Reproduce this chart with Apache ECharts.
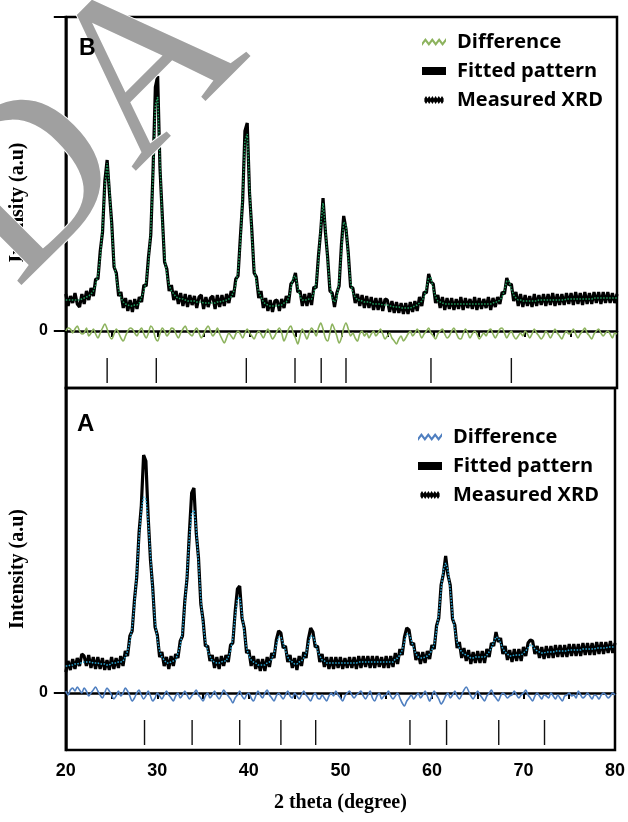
<!DOCTYPE html>
<html>
<head>
<meta charset="utf-8">
<script src="https://cdn.jsdelivr.net/npm/echarts@6/dist/echarts.min.js"></script>
<style>
html,body{margin:0;padding:0;background:#fff;}
#chart{width:628px;height:822px;}
</style>
</head>
<body>
<div id="chart"></div>
<script>
// 2θ sampling shared by every pattern below (degrees)
const twoThetaStart = 20;
const twoThetaStep = 0.25;
const twoThetaLabels = [20, 30, 40, 50, 60, 70, 80];
const zeroLabel = [0];

// ---- Sample B ----
const measuredB = [
  37,25,35,28, 38,27,24,37,   // 20–21.75
  27,40,31,43, 35,52,52,80,   // 22–23.75
  99,150,171,138, 108,64,58,35, // 24–25.75
  39,23,33,20, 31,19,32,22,   // 26–27.75
  34,29,46,45, 74,96,162,244, // 28–29.75
  255,163,116,69, 62,40,46,31,// 30–31.75
  40,27,38,25, 37,24,36,26,   // 32–33.75
  35,23,34,36, 22,34,24,33,   // 34–35.75
  35,22,36,24, 36,25,37,28,   // 36–37.75
  40,34,52,55, 94,130,200,208,// 38–39.75
  138,101,58,54, 33,40,23,33, // 40–41.75
  20,31,19,30, 31,20,32,23,   // 42–43.75
  35,28,47,50, 58,39,40,25,   // 44–45.75
  37,25,38,26, 44,43,75,100,  // 46–47.75
  133,100,74,40, 38,24,38,45, // 48–49.75
  86,115,102,78, 44,43,28,37, // 50–51.75
  25,36,23,35, 23,34,21,33,   // 52–53.75
  21,33,20,32, 31,19,30,18,   // 54–55.75
  29,18,28,17, 28,17,29,19,   // 56–57.75
  30,20,34,25, 39,38,57,49,   // 58–59.75
  47,28,36,23, 34,21,33,22,   // 60–61.75
  33,21,32,22, 34,21,33,23,   // 62–63.75
  32,22,34,21, 33,22,32,23,   // 64–65.75
  34,21,33,24, 34,27,39,37,   // 66–67.75
  53,46,47,30, 39,25,37,24,   // 68–69.75
  36,25,35,24, 37,25,36,26,   // 70–71.75
  37,25,37,26, 38,25,37,26,   // 72–73.75
  37,26,38,27, 38,26,39,27,   // 74–75.75
  38,26,39,27, 38,27,39,28,   // 76–77.75
  39,27,39,28, 39,28,38,28,   // 78–79.75
  37                          // 80
];
const fittedB = [
  31,31,31,31, 31,31,31,32,
  33,34,35,37, 40,46,56,74,
  104,145,168,144, 102,70,52,41,
  33,29,27,26, 25,25,26,26,
  28,34,40,50, 68,101,156,226,
  234,170,110,75, 56,46,40,37,
  34,33,32,32, 31,30,30,30,
  30,29,29,29, 28,28,28,28,
  28,28,29,29, 30,30,31,32,
  34,39,46,60, 88,135,190,197,
  145,95,64,48, 39,34,29,27,
  26,25,25,25, 25,26,26,28,
  29,33,42,54, 55,44,34,31,
  31,31,32,32, 38,48,70,105,
  128,105,70,45, 32,29,33,50,
  80,109,106,73, 49,38,34,31,
  31,30,29,29, 29,28,27,27,
  27,27,26,26, 26,25,25,24,
  24,24,23,23, 23,23,23,24,
  25,26,28,30, 34,43,53,53,
  42,34,30,29, 28,27,27,27,
  27,27,27,27, 27,27,27,27,
  27,27,27,27, 27,27,27,27,
  27,27,28,29, 29,31,34,41,
  50,50,42,36, 33,31,31,30,
  30,30,30,30, 30,30,31,31,
  31,31,31,31, 31,31,31,31,
  31,31,32,32, 32,32,32,32,
  32,32,32,32, 32,32,33,33,
  33,33,33,33, 33,33,33,33,
  33
];
const differenceB = [
  0,3,2,-2, 2,5,0,-3,
  -2,3,-5,-2, 2,-3,-7,-2,
  3,7,2,-5, -8,-3,2,-2,
  -7,-10,-5,0, 3,2,-2,-5,
  0,3,-3,-7, -2,5,2,-7,
  -10,-3,3,0, -5,-2,3,2,
  -3,-7,-2,2, 5,0,-3,-5,
  0,3,-2,-7, -3,2,5,0,
  -5,-2,3,-3, -8,-12,-7,-2,
  -5,-8,-3,0, -3,-7,-2,2,
  -2,-5,-8,-3, 0,-3,-7,-2,
  2,-3,-8,-5, 0,3,-2,-10,
  -5,2,5,-2, -7,-13,-5,2,
  -3,-8,-2,3, 0,-5,3,8,
  2,-7,-10,-2, 7,2,-5,-12,
  -7,3,8,2, -5,-2,-7,-10,
  -3,0,-5,-2, -7,-3,0,-5,
  -2,2,-3,-8, -5,-2,-7,-10,
  -13,-8,-5,-10, -7,-3,0,-5,
  -2,2,-2,-7, -3,0,3,-2,
  -5,-8,-3,0, 2,-3,-7,-5,
  0,3,-2,-7, -8,-3,2,-2,
  -7,-3,0,-3, -8,-5,-2,-5,
  0,2,-3,-7, -3,2,3,-2,
  -7,-3,0,-5, -8,-5,-2,-5,
  0,-3,-7,-3, 2,-2,-5,-8,
  -5,0,-3,-7, -3,2,-2,-5,
  -8,-3,0,-3, -2,2,-3,-7,
  -3,0,3,-2, -5,-8,-3,0,
  2,-2,-5,-2, 0,-3,-7,-2,
  -3
];
const reflectionsB = [24.5, 29.85, 39.65, 44.95, 47.8, 50.5, 59.75, 68.5];

// ---- Sample A ----
const measuredA = [
  21,32,23,34, 24,35,27,39,   // 20–21.75
  37,27,38,25, 36,24,36,24,   // 22–23.75
  35,23,33,23, 36,24,35,25,   // 24–25.75
  37,27,42,37, 57,62,93,116,  // 26–27.75
  160,187,238,232, 176,133,105,66, // 28–29.75
  58,36,41,27, 36,24,37,27,   // 30–31.75
  39,35,52,57, 92,115,160,200,// 32–33.75
  205,160,135,89, 73,47,47,32,// 34–35.75
  38,25,36,24, 37,27,38,31,   // 36–37.75
  48,50,81,104, 107,75,65,40, // 38–39.75
  43,27,37,24, 34,22,34,22,   // 40–41.75
  36,26,40,35, 53,62,60,45,   // 42–43.75
  47,31,38,25, 35,23,37,27,   // 44–45.75
  41,35,54,65, 61,46,47,31,   // 46–47.75
  39,26,36,24, 36,24,36,25,   // 48–49.75
  36,24,35,25, 36,25,36,24,   // 50–51.75
  37,25,37,26, 37,25,37,25,   // 52–53.75
  37,26,36,25, 37,25,37,26,   // 54–55.75
  40,29,44,38, 56,65,63,48,   // 56–57.75
  50,33,41,29, 41,30,42,34,   // 58–59.75
  48,44,67,75, 108,119,137,118, // 60–61.75
  108,74,68,45, 51,35,45,32,  // 62–63.75
  43,29,41,30, 42,30,42,30,   // 64–65.75
  44,36,50,47, 61,51,55,39,   // 66–67.75
  47,33,43,31, 44,32,44,32,   // 68–69.75
  46,37,50,53, 52,39,47,35,   // 70–71.75
  46,34,47,35, 47,35,48,36,   // 72–73.75
  48,36,48,36, 49,37,49,37,   // 74–75.75
  49,37,50,38, 50,38,50,38,   // 76–77.75
  51,39,51,39, 51,40,52,40,   // 78–79.75
  50                          // 80
];
const fittedA = [
  27,27,28,28, 29,29,30,30,
  31,31,31,31, 30,30,30,29,
  29,29,28,28, 30,30,30,31,
  31,32,36,42, 52,66,88,120,
  155,183,196,194, 172,138,100,72,
  53,42,36,33, 30,30,31,32,
  33,40,47,62, 87,120,155,180,
  183,165,130,94, 68,52,42,37,
  32,31,30,30, 31,32,32,36,
  42,55,76,94, 96,80,60,45,
  37,33,31,30, 28,28,28,28,
  30,31,34,40, 48,56,56,50,
  42,36,32,31, 29,29,31,32,
  35,40,49,57, 57,51,42,37,
  33,32,30,30, 30,30,30,30,
  30,30,30,30, 30,30,30,30,
  31,31,31,31, 31,31,31,31,
  31,31,31,31, 31,31,31,31,
  34,35,38,43, 51,59,59,53,
  45,39,36,35, 35,36,37,39,
  43,49,62,79, 103,123,130,123,
  103,79,63,51, 45,41,39,38,
  37,35,35,36, 36,36,36,36,
  38,41,45,51, 56,55,50,44,
  41,39,37,37, 38,38,38,38,
  40,42,45,48, 47,44,42,41,
  40,40,41,41, 41,41,42,42,
  42,42,42,42, 43,43,43,43,
  43,43,44,44, 44,44,44,44,
  45,45,45,45, 45,46,46,46,
  46
];
const differenceA = [
  2,-2,3,5, 2,6,3,0,
  5,2,-3,0, 3,6,2,-2,
  -5,0,5,2, -2,-6,-3,2,
  -3,0,5,2, -3,-8,-5,0,
  3,-2,-6,-3, 2,-3,-8,-5,
  0,-3,-6,-2, 2,-2,-5,-8,
  -3,0,-5,-2, 2,-2,-6,-3,
  0,3,-2,-5, -8,-3,0,-5,
  -2,2,-3,-6, -2,3,0,-3,
  -6,-10,-5,-2, 2,-3,-6,-2,
  0,-5,-8,-3, 2,-2,-5,0,
  3,-2,-5,-8, -3,0,-3,-6,
  -2,2,-3,-5, 0,-3,-6,-2,
  2,-2,-5,-8, -3,0,-5,-6,
  -2,-5,-8,-3, 0,-3,2,-2,
  -5,-8,-3,0, 2,-2,-5,-2,
  0,2,-3,-6, -2,2,-5,-8,
  -3,0,-6,-3, -2,2,-3,-6,
  -3,0,-5,-10, -13,-8,-5,-2,
  -6,-3,0,-5, -2,2,-3,-8,
  -3,2,-2,-6, -11,-8,-3,0,
  -5,-2,2,-3, -6,-2,3,6,
  2,-3,-6,-2, 2,-2,-5,-8,
  -3,0,3,-2, -5,-8,-3,0,
  -2,-5,-3,-2, 2,-2,-5,-2,
  0,3,-2,-5, -8,-3,0,-3,
  -6,-2,-3,-5, 0,-3,-6,-2,
  -5,-8,-3,-2, 0,-3,-2,-5,
  2,-2,-5,-3, 0,-3,-6,-2,
  -3,-6,-2,0, -2,-5,-3,0,
  -2
];
const reflectionsA = [28.6, 33.8, 39.0, 43.5, 47.3, 57.6, 61.6, 67.3, 72.3];

// ---- drawing ----
const toPairs = arr => arr.map((v, i) => [twoThetaStart + i * twoThetaStep, v]);

const INK = '#000';
const markTop = -27, markBottom = -52;   // vertical extent of reflection bars
const sansBold = { fontFamily: '"Liberation Sans", Arial, sans-serif', fontWeight: 'bold', color: INK };
const serifBold = { fontFamily: '"Liberation Serif", "Times New Roman", serif', fontWeight: 'bold', color: INK };

const wavyIcon = 'path://M0,4 L3,0 L6,4 L9,0 L12,4 L15,0 L18,4 L21,0 L21,3 L18,7 L15,3 L12,7 L9,3 L6,7 L3,3 L0,7 Z';
const jaggedIcon = 'path://M0,3 L2,0 L4,3 L6,0 L8,3 L10,0 L12,3 L14,0 L16,3 L18,0 L20,3 L22,0 L24,3 L24,7 L22,10 L20,7 L18,10 L16,7 L14,10 L12,7 L10,10 L8,7 L6,10 L4,7 L2,10 L0,7 Z';

function reflectionRenderer(params, api) {
  const x = api.value(0);
  const p1 = api.coord([x, markTop]);
  const p2 = api.coord([x, markBottom]);
  return { type: 'line', shape: { x1: p1[0], y1: p1[1], x2: p2[0], y2: p2[1] },
           style: { stroke: '#111', lineWidth: 1.4 } };
}

function panelSeries(idx, measured, fitted, diff, refl, fitColor, diffColor) {
  return [
    { name: 'Measured XRD', type: 'line', xAxisIndex: idx, yAxisIndex: idx,
      data: toPairs(measured), symbol: 'none', silent: true, z: 2,
      lineStyle: { color: INK, width: 3.2 }, itemStyle: { color: INK } },
    { name: 'Fitted pattern', type: 'line', xAxisIndex: idx, yAxisIndex: idx,
      data: toPairs(fitted), symbol: 'none', silent: true, z: 3,
      lineStyle: { color: fitColor, width: 1.5, type: 'dotted' }, itemStyle: { color: fitColor } },
    { name: 'Difference', type: 'line', xAxisIndex: idx, yAxisIndex: idx,
      data: toPairs(diff), symbol: 'none', silent: true, z: 2, smooth: 0.3,
      lineStyle: { color: diffColor, width: 1.6 }, itemStyle: { color: diffColor } },
    { name: 'Reflections', type: 'custom', xAxisIndex: idx, yAxisIndex: idx,
      data: refl.map(v => [v, 0]), renderItem: reflectionRenderer, silent: true, z: 2 }
  ];
}

function legendFor(left, top, diffColor) {
  return {
    orient: 'vertical', left: left, top: top, itemWidth: 24, itemHeight: 8, itemGap: 9,
    selectedMode: false,
    textStyle: { fontFamily: '"Open Sans", sans-serif', fontWeight: 'bold', fontSize: 20,
                 color: INK, lineHeight: 20, padding: [0, 0, 0, 6] },
    data: [
      { name: 'Difference', icon: wavyIcon, itemStyle: { color: diffColor, borderWidth: 0 } },
      { name: 'Fitted pattern', icon: 'rect', itemStyle: { color: INK, borderWidth: 0 } },
      { name: 'Measured XRD', icon: jaggedIcon, itemStyle: { color: INK, borderWidth: 0 } }
    ]
  };
}

const xBase = {
  type: 'value', min: 20, max: 80, interval: 5,
  axisLine: { lineStyle: { color: INK, width: 2.5 } },
  axisTick: { show: true, length: 6, lineStyle: { color: INK, width: 2 } },
  splitLine: { show: false }
};

function yAxisFor(idx, min, max, tickValues) {
  return {
    gridIndex: idx, type: 'value', min: min, max: max,
    name: 'Intensity (a.u)', nameLocation: 'middle', nameRotate: 90, nameGap: 23,
    nameTextStyle: Object.assign({ fontSize: 20 }, serifBold),
    axisLine: { show: true, lineStyle: { color: INK, width: 2.5 } },
    axisTick: { show: true, customValues: tickValues, length: 12, lineStyle: { color: INK, width: 2 } },
    axisLabel: Object.assign({ show: true, customValues: zeroLabel, margin: 18, fontSize: 16 }, sansBold),
    splitLine: { show: false }
  };
}

const chart = echarts.init(document.getElementById('chart'), null, { renderer: 'canvas' });
chart.setOption({
  animation: false,
  backgroundColor: '#fff',
  grid: [
    { left: 63, right: 11, top: 17, height: 371, show: true, borderColor: INK, borderWidth: 2.5 },
    { left: 63, right: 11, top: 388, height: 362, show: true, borderColor: INK, borderWidth: 2.5 }
  ],
  xAxis: [
    Object.assign({ gridIndex: 0, axisLabel: { show: false } }, xBase),
    Object.assign({ gridIndex: 1,
      axisLabel: Object.assign({ show: true, customValues: twoThetaLabels, margin: 12, fontSize: 18 }, sansBold),
      name: '2 theta (degree)', nameLocation: 'middle', nameGap: 43,
      nameTextStyle: Object.assign({ fontSize: 20 }, serifBold) }, xBase)
  ],
  yAxis: [
    yAxisFor(0, -57, 314, [0, 314]),
    yAxisFor(1, -57, 305, [0])
  ],
  legend: [
    legendFor(417, 27, '#8db35e'),
    legendFor(413, 422, '#4f7fc0')
  ],
  graphic: [
    { type: 'text', x: -26, y: 247, rotation: Math.PI / 4, z: 100, silent: true,
      style: { text: 'DA', font: '230px "Liberation Serif", serif', fill: '#a0a0a0',
               stroke: '#ffffff', lineWidth: 2, textAlign: 'left', textVerticalAlign: 'middle' } },
    { type: 'text', left: 79, top: 37, silent: true, z: 110,
      style: { text: 'B', font: 'bold 23px "Liberation Sans", Arial, sans-serif', fill: INK } },
    { type: 'text', left: 77, top: 412, silent: true, z: 110,
      style: { text: 'A', font: 'bold 24px "Liberation Sans", Arial, sans-serif', fill: INK } }
  ],
  series: [].concat(
    panelSeries(0, measuredB, fittedB, differenceB, reflectionsB, '#1f9e5e', '#8db35e'),
    panelSeries(1, measuredA, fittedA, differenceA, reflectionsA, '#2aa9d9', '#4f7fc0')
  )
});
</script>
</body>
</html>
